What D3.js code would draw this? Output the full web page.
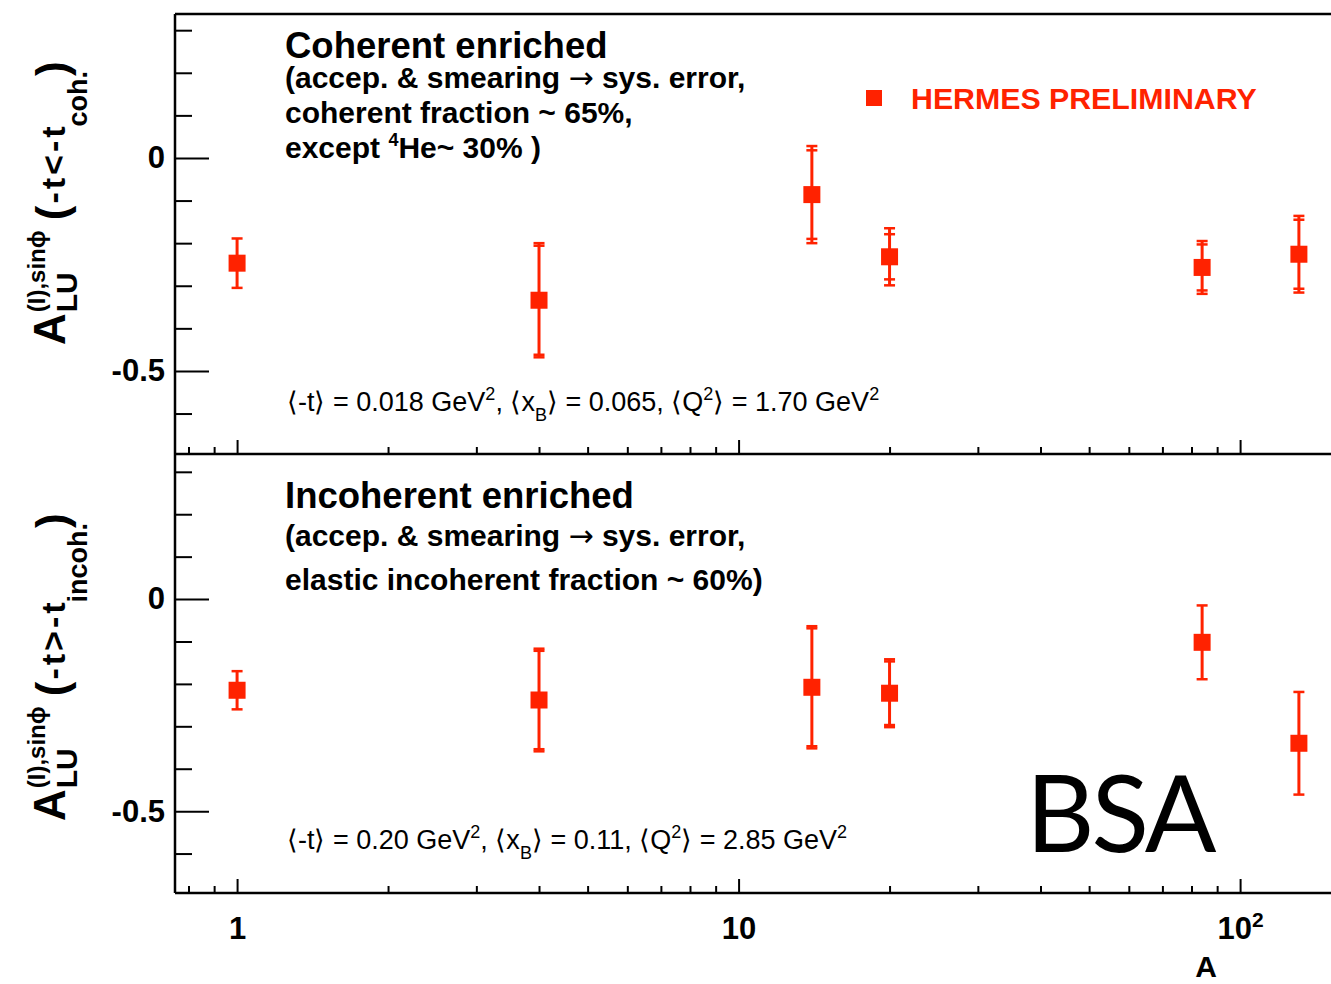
<!DOCTYPE html>
<html>
<head>
<meta charset="utf-8">
<script src="https://cdn.jsdelivr.net/npm/d3@7"></script>
<style>
  body { margin: 0; background: #fff; }
  svg { display: block; }
</style>
</head>
<body>
<svg id="chart" width="1331" height="984"></svg>
<script>
// Mass numbers of the targets (H, He, N, Ne, Kr, Xe)
const massNumbers = [1, 4, 14, 20, 84, 131];

// Coherent-enriched sample: asymmetry, statistical and total uncertainty
const cohValues = [-0.247, -0.334, -0.086, -0.232, -0.257, -0.226];
const cohStat   = [0.058, 0.128, 0.104, 0.053, 0.054, 0.081];
const cohTotal  = [0.058, 0.134, 0.114, 0.067, 0.062, 0.090];

// Incoherent-enriched sample
const incValues = [-0.215, -0.238, -0.208, -0.222, -0.102, -0.340];
const incStat   = [0.045, 0.116, 0.139, 0.075, 0.087, 0.121];
const incTotal  = [0.045, 0.121, 0.144, 0.080, 0.087, 0.121];

const xMajorTicks = [1, 10, 100];
const xMinorTicks = [0.8, 0.9, 2, 3, 4, 5, 6, 7, 8, 9, 20, 30, 40, 50, 60, 70, 80, 90];
const yMajorTicks = [0, -0.5];
const yMinorTicks = [0.3, 0.2, 0.1, -0.1, -0.2, -0.3, -0.4, -0.6];

const RED = "#ff2200";
const FONT = "'Liberation Sans', Arial, Helvetica, sans-serif";

const svg = d3.select("#chart");

const frameLeft = 175, frameRight = 1334;
const x = d3.scaleLog().domain([0.752, 151.8]).range([175, 1331]);

const panels = [
  { top: 14,  bottom: 454, domain: [-0.695, 0.338], values: cohValues, stat: cohStat, total: cohTotal, labels: false },
  { top: 454, bottom: 893, domain: [-0.693, 0.342], values: incValues, stat: incStat, total: incTotal, labels: true }
];

panels.forEach(p => {
  const y = d3.scaleLinear().domain(p.domain).range([p.bottom, p.top]);
  const g = svg.append("g");

  // left axis: major and minor ticks pointing into the frame
  const yMaj = g.append("g").attr("transform", `translate(${frameLeft},0)`)
    .call(d3.axisLeft(y).tickValues(yMajorTicks).tickSize(-34).tickPadding(10)
      .tickFormat(d => d === 0 ? "0" : "-" + Math.abs(d).toFixed(1)));
  const yMin = g.append("g").attr("transform", `translate(${frameLeft},0)`)
    .call(d3.axisLeft(y).tickValues(yMinorTicks).tickSize(-17).tickFormat(""));

  // bottom axis of the panel: ticks pointing up
  const xMaj = g.append("g").attr("transform", `translate(0,${p.bottom})`)
    .call(d3.axisBottom(x).tickValues(xMajorTicks).tickSize(-14).tickPadding(24)
      .tickFormat(d => p.labels ? (d === 100 ? "10" : String(d)) : ""));
  const xMin = g.append("g").attr("transform", `translate(0,${p.bottom})`)
    .call(d3.axisBottom(x).tickValues(xMinorTicks).tickSize(-7).tickFormat(""));

  [yMaj, yMin, xMaj, xMin].forEach(a => {
    a.select(".domain").remove();
    a.selectAll(".tick line").attr("stroke", "#000").attr("stroke-width", 2);
    a.selectAll(".tick text").attr("fill", "#000").attr("font-family", FONT)
      .attr("font-weight", "bold").attr("font-size", 31);
  });
  if (p.labels) {
    xMaj.selectAll(".tick text").filter(d => d === 100)
      .append("tspan").attr("dy", "-0.55em").attr("font-size", 21).text("2");
  }

  // error bars: total span with caps at the statistical and total extent
  const pts = massNumbers.map((a, i) => ({ a, v: p.values[i], s: p.stat[i], t: p.total[i] }));
  const marks = g.append("g");
  marks.selectAll("line.bar").data(pts).join("line")
    .attr("x1", d => x(d.a)).attr("x2", d => x(d.a))
    .attr("y1", d => y(d.v + d.t)).attr("y2", d => y(d.v - d.t))
    .attr("stroke", RED).attr("stroke-width", 3);
  const caps = [];
  pts.forEach(d => {
    caps.push({ a: d.a, v: d.v + d.s }, { a: d.a, v: d.v - d.s });
    if (d.t !== d.s) caps.push({ a: d.a, v: d.v + d.t }, { a: d.a, v: d.v - d.t });
  });
  marks.selectAll("line.cap").data(caps).join("line")
    .attr("x1", d => x(d.a) - 5.5).attr("x2", d => x(d.a) + 5.5)
    .attr("y1", d => y(d.v)).attr("y2", d => y(d.v))
    .attr("stroke", RED).attr("stroke-width", 2.5);
  marks.selectAll("rect").data(pts).join("rect")
    .attr("x", d => x(d.a) - 8.5).attr("y", d => y(d.v) - 8.5)
    .attr("width", 17).attr("height", 17).attr("fill", RED);
});

// frame
const frame = svg.append("g").attr("fill", "none").attr("stroke", "#000").attr("stroke-width", 2.5);
frame.append("line").attr("x1", frameLeft).attr("x2", frameLeft).attr("y1", 14).attr("y2", 893);
[14, 454, 893].forEach(yy =>
  frame.append("line").attr("x1", frameLeft).attr("x2", frameRight).attr("y1", yy).attr("y2", yy));

// x axis title
svg.append("text").attr("x", 1206).attr("y", 977).attr("text-anchor", "middle")
  .attr("font-family", FONT).attr("font-weight", "bold").attr("font-size", 30).text("A");

// rotated y-axis titles built from pieces placed one after another
function yTitle(x0, y0, tail, subText) {
  const g = svg.append("g").attr("transform", `translate(${x0},${y0}) rotate(-90)`)
    .attr("font-family", FONT).attr("font-weight", "bold").attr("fill", "#000");
  let cx = 0;
  const put = (txt, size, dy, gap = 0, spacing = 0) => {
    const t = g.append("text").attr("x", cx + gap).attr("y", dy).attr("font-size", size)
      .attr("letter-spacing", spacing).text(txt);
    return cx + gap + t.node().getComputedTextLength();
  };
  cx = put("A", 44, 0);
  const e1 = put("LU", 30, 12, 1);
  const e2 = put("(I),sinϕ", 24, -20, 1);
  cx = Math.max(e1, e2);
  cx = put("(", 44, 2, 10);
  cx = put(tail, 34, 0, 2, 3);
  cx = put(subText, 27, 22, -3);
  cx = put(")", 44, 2, -5);
}
yTitle(65, 345, "-t<-t", "coh.");
yTitle(65, 821, "-t>-t", "incoh.");

// panel annotations
function block(lines) {
  lines.forEach(l => {
    const t = svg.append("text").attr("x", l.x).attr("y", l.y)
      .attr("font-family", FONT).attr("font-weight", l.w || "bold")
      .attr("font-size", l.s).attr("fill", l.c || "#000");
    l.parts.forEach(pt => {
      const ts = t.append("tspan").text(pt.t);
      if (pt.dy) ts.attr("dy", pt.dy);
      if (pt.s) ts.attr("font-size", pt.s);
      if (pt.f) ts.attr("font-family", pt.f).attr("font-weight", "normal");
    });
  });
}

const ARROW_FONT = "'DejaVu Sans', sans-serif";
block([
  { x: 285, y: 58,  s: 36.5, parts: [{ t: "Coherent enriched" }] },
  { x: 285, y: 88,  s: 30, parts: [{ t: "(accep. & smearing " }, { t: "→", f: ARROW_FONT }, { t: " sys. error," }] },
  { x: 285, y: 123, s: 30, parts: [{ t: "coherent fraction ~ 65%," }] },
  { x: 285, y: 158, s: 30, parts: [{ t: "except " }, { t: "4", s: 18, dy: -12 }, { t: "He~ 30% )", dy: 12 }] },
  { x: 285, y: 508, s: 36.5, parts: [{ t: "Incoherent enriched" }] },
  { x: 285, y: 546, s: 30, parts: [{ t: "(accep. & smearing " }, { t: "→", f: ARROW_FONT }, { t: " sys. error," }] },
  { x: 285, y: 590, s: 30, parts: [{ t: "elastic incoherent fraction ~ 60%)" }] }
]);

function kinematics(x0, y0, tVal, xVal, qVal) {
  block([{ x: x0, y: y0, s: 27, w: "normal", parts: [
    { t: `⟨-t⟩ = ${tVal} GeV` }, { t: "2", s: 18, dy: -11 }, { t: ", ⟨x", dy: 11 },
    { t: "B", s: 18, dy: 10 }, { t: "⟩ = " + xVal + ", ⟨Q", dy: -10 },
    { t: "2", s: 18, dy: -11 }, { t: `⟩ = ${qVal} GeV`, dy: 11 }, { t: "2", s: 18, dy: -11 }
  ]}]);
}
kinematics(287, 411, "0.018", "0.065", "1.70");
kinematics(287, 849, "0.20", "0.11", "2.85");

// legend
svg.append("rect").attr("x", 866).attr("y", 90).attr("width", 16).attr("height", 16).attr("fill", RED);
svg.append("text").attr("x", 911).attr("y", 109).attr("font-family", FONT).attr("font-weight", "bold")
  .attr("font-size", 30.3).attr("fill", RED).text("HERMES PRELIMINARY");

// slide tag
svg.append("text").attr("x", 1026).attr("y", 852).attr("font-family", "Lato, 'Open Sans', sans-serif")
  .attr("font-size", 106).attr("letter-spacing", -3).attr("fill", "#000").text("BSA");
</script>
</body>
</html>
